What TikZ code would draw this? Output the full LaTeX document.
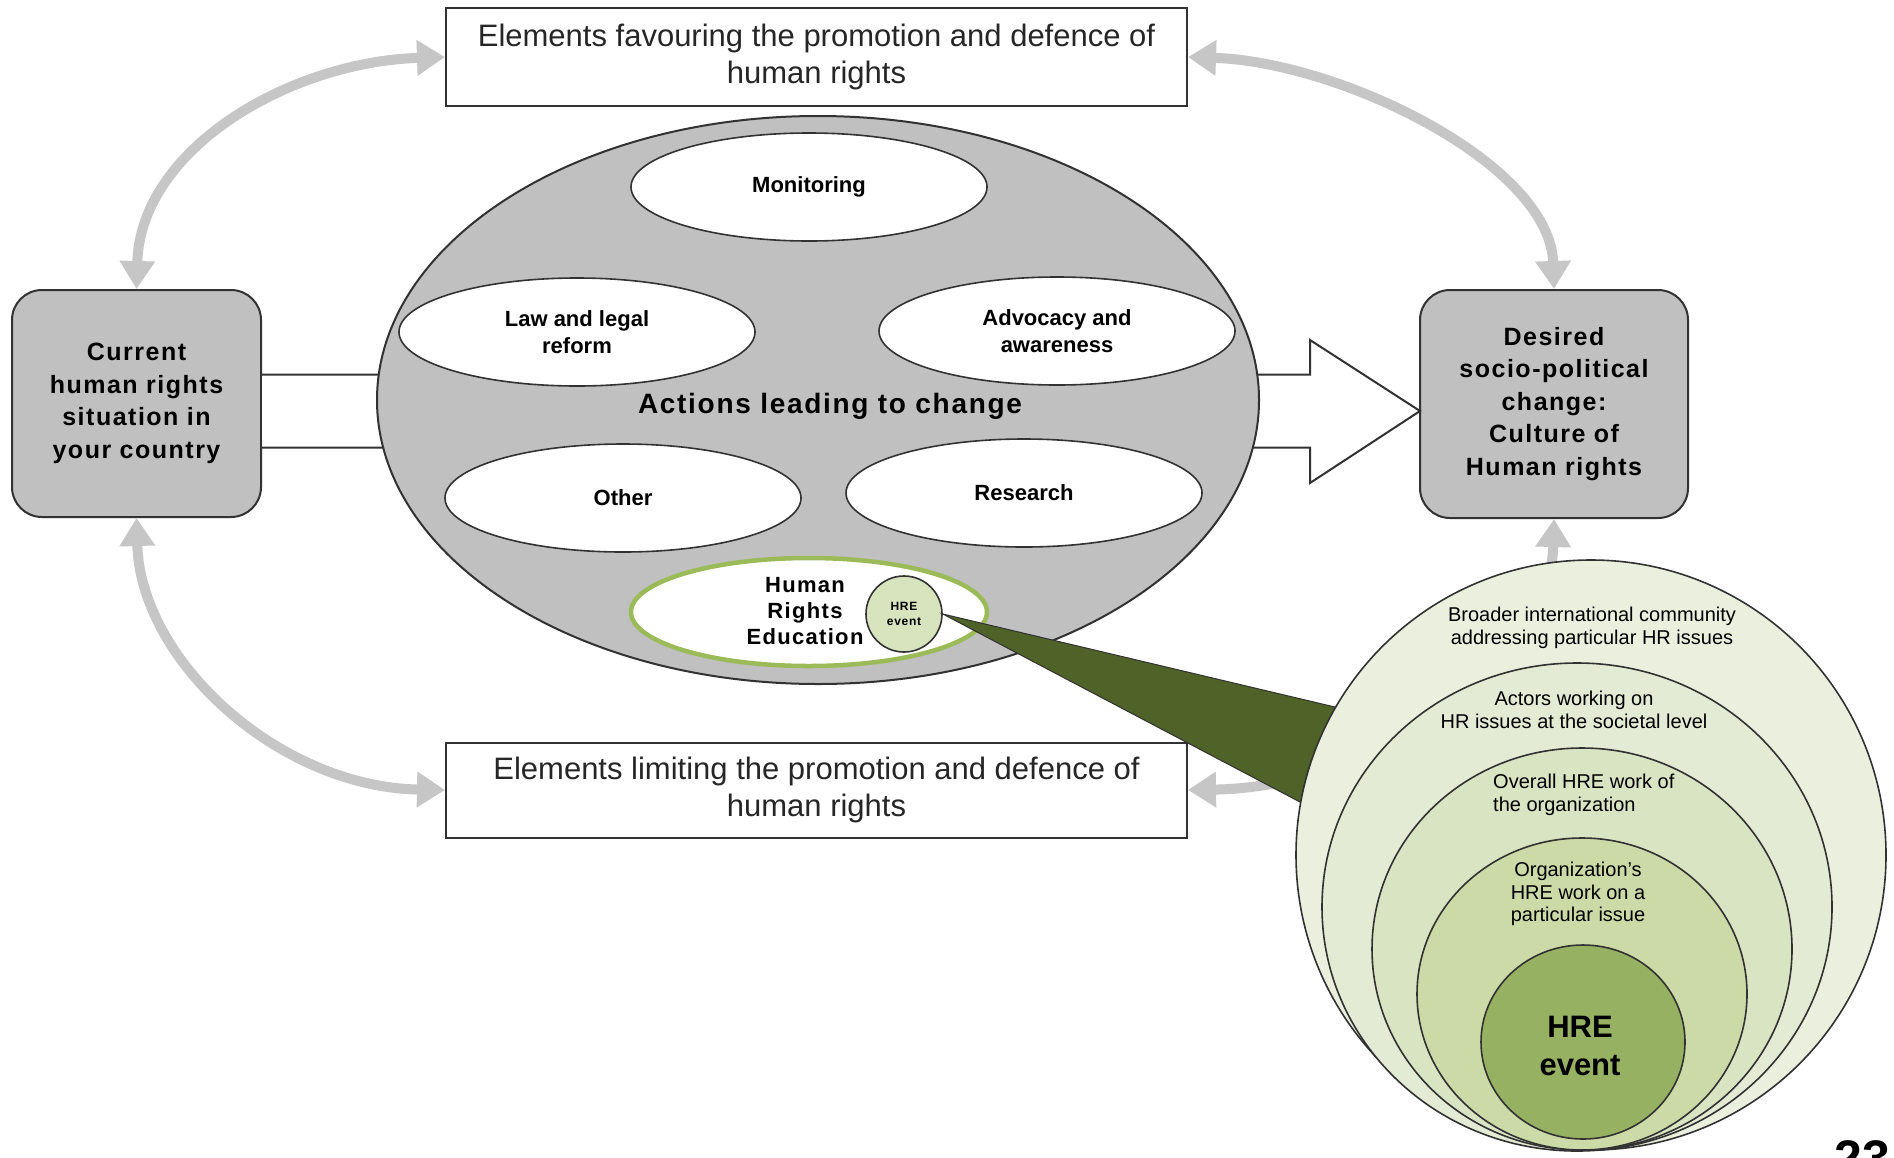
\documentclass[tikz,border=0pt]{standalone}
\usepackage{fontspec}
\setmainfont{Liberation Sans}
\newfontfamily\wide{Liberation Sans}[LetterSpace=6]
\usetikzlibrary{shapes.geometric,arrows.meta,calc}

\definecolor{boxgray}{RGB}{192,192,192}
\definecolor{edge}{RGB}{50,50,50}
\definecolor{arrowgray}{RGB}{198,198,198}
\definecolor{hregreen}{RGB}{155,187,89}
\definecolor{wedgegreen}{RGB}{79,98,40}
\definecolor{ringA}{RGB}{235,240,222}
\definecolor{ringB}{RGB}{228,235,212}
\definecolor{ringC}{RGB}{217,228,195}
\definecolor{ringD}{RGB}{203,218,167}
\definecolor{ringE}{RGB}{150,177,98}
\definecolor{eventfill}{RGB}{215,228,189}

\newcommand{\fsz}[2]{\fontsize{#1}{#2}\selectfont}

\begin{document}
\begin{tikzpicture}[x=1pt,y=-1pt,
  linkarrow/.style={draw=arrowgray, line width=10pt,
    {Triangle[width=34pt,length=28pt]}-{Triangle[width=34pt,length=28pt]}},
  plainbox/.style={draw=edge, line width=2pt, fill=white, minimum width=741,
    align=center, font=\fsz{31}{37}, text=black!85},
  statebox/.style={draw=edge, line width=2pt, fill=boxgray, rounded corners=30pt,
    align=center, font=\wide\bfseries\fsz{25}{32.5}},
  blockline/.style={draw=edge, line width=2pt, fill=white, line join=miter},
  oval/.style={ellipse, draw=edge, line width=1.6pt, fill=white, inner sep=0pt,
    minimum width=356, minimum height=108, align=center,
    font=\bfseries\fsz{22}{27}},
  ring/.style={ellipse, draw=edge, line width=1.6pt, inner sep=0pt},
  ringtext/.style={align=center, font=\fsz{20}{22.5}, inner sep=0pt},
]
\useasboundingbox (0,0) rectangle (1894,1157);
\clip (0,0) rectangle (1894,1157);
\fill[white] (0,0) rectangle (1894,1157);

% outer boxes
\node[statebox, minimum width=249, minimum height=227] (cur) at (136.5,403.5)
  {Current\\human rights\\situation in\\your country};
\node[statebox, minimum width=268, minimum height=228] (des) at (1554,404)
  {Desired\\socio-political\\change:\\Culture of\\Human rights};
\node[plainbox, minimum height=98] (top) at (816.5,57)
  {Elements favouring the promotion and defence of\\human rights};
\node[plainbox, minimum height=95] (bot) at (816.5,790)
  {Elements limiting the promotion and defence of\\human rights};

% curved two-way links between the boxes
\draw[linkarrow] (cur.north) .. controls +(4,-140) and +(-156,5) .. (top.west);
\draw[linkarrow] (top.east) .. controls +(153,5) and +(-4,-125) .. (des.north);
\draw[linkarrow] (cur.south) .. controls +(4,143) and +(-166,-3) .. (bot.west);
\draw[linkarrow] (des.south) .. controls +(-4,143) and +(190,-3) .. (bot.east);

% broad arrow from current situation towards desired change
\coordinate (shaftL) at (cur.east |- 0,411);
\coordinate (tip) at (1420,411);
\draw[blockline] ($(shaftL)+(0,-36.5)$) -- ($(tip)+(-110,-36.5)$)
  -- ($(tip)+(-110,-71)$) -- (tip) -- ($(tip)+(-110,72)$)
  -- ($(tip)+(-110,36.5)$) -- ($(shaftL)+(0,36.5)$);

% actions leading to change
\node[ellipse, draw=edge, line width=2pt, fill=boxgray, inner sep=0pt,
  minimum width=882, minimum height=568] (act) at (818,400) {};
\node[font=\wide\bfseries\fsz{28}{32}] (actlbl) at (830,406) {Actions leading to change};
\node[oval] (mon) at (809,187) {Monitoring};
\node[oval] (law) at (577,332) {Law and legal\\reform};
\node[oval] (adv) at (1057,331) {Advocacy and\\awareness};
\node[oval] (oth) at (623,498) {Other};
\node[oval] (res) at (1024,493) {Research};
\node[oval, draw=hregreen, line width=4.5pt] (hre) at (809,612) {};
\node[align=center, font=\wide\bfseries\fsz{22}{26}] (hrelbl) at (805,611)
  {Human\\Rights\\Education};
\node[circle, draw=edge, line width=1.6pt, fill=eventfill, minimum size=76,
  inner sep=0pt, align=center, font=\wide\bfseries\fsz{12}{15}] (hev) at (904,614)
  {HRE\\event};

% zoom wedge
\draw[fill=wedgegreen, draw=edge, line width=1pt, line join=miter]
  (hev.east) -- (1377,717) -- (1338,822) -- cycle;

% nested levels around a single event
\node[ring, fill=ringA, minimum width=590, minimum height=590] (lvA) at (1591,855) {};
\node[ring, fill=ringB, minimum width=510, minimum height=488] (lvB) at (1577,907) {};
\node[ring, fill=ringC, minimum width=420, minimum height=402] (lvC) at (1582,949) {};
\node[ring, fill=ringD, minimum width=330, minimum height=312] (lvD) at (1582,994) {};
\node[ring, fill=ringE, minimum width=204, minimum height=194] (lvE) at (1583,1042) {};

\node[ringtext] (tA) at (1592,628)
  {Broader international community\\addressing particular HR issues};
\node[ringtext] (tB) at (1574,710)
  {Actors working on\\HR issues at the societal level};
\node[ringtext, align=left, anchor=west] (tC) at (1493,795)
  {Overall HRE work of\\the organization};
\node[ringtext] (tD) at (1578,894)
  {Organization's\\HRE work on a\\particular issue};
\node[align=center, font=\bfseries\fsz{31}{38}, inner sep=0pt] (tE) at (1580,1046)
  {HRE\\event};

% page number
\node[anchor=north, inner sep=0pt, font=\bfseries\fsz{50}{50}] (page) at (1862,1140) {23};
\end{tikzpicture}
\end{document}
